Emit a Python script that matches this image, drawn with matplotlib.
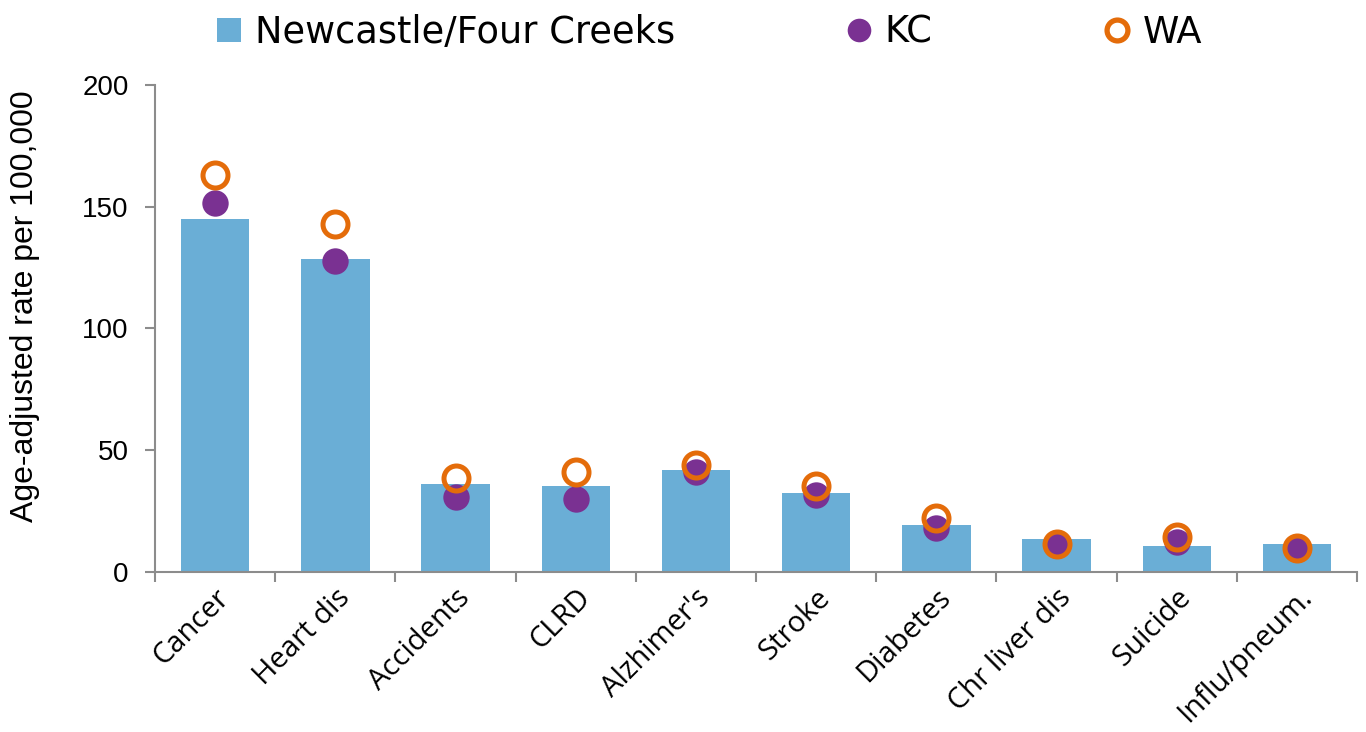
import matplotlib.pyplot as plt
import numpy as np
from matplotlib.lines import Line2D

plt.rcParams['font.family'] = ['DejaVu Sans']

# data
categories = ["Cancer", "Heart dis", "Accidents", "CLRD", "Alzhimer's", "Stroke",
              "Diabetes", "Chr liver dis", "Suicide", "Influ/pneum."]
newcastle = [145, 128.5, 36, 35.3, 41.9, 32.4, 19.3, 13.5, 10.7, 11.5]
kc = [151.5, 127.7, 30.8, 30, 41, 31.6, 18.2, 11, 12.5, 9.8]
wa = [163, 143, 38.7, 41, 44, 35.4, 22.2, 11.4, 14.5, 9.7]

bar_color = "#6aaed6"
kc_color = "#7a3192"
wa_color = "#e46c0a"
axis_gray = "#8c8c8c"

fig = plt.figure(figsize=(13.66, 7.32), dpi=100)
ax = fig.add_axes([0.1135, 0.2186, 0.88, 0.6653])

x = np.arange(len(categories))
ax.bar(x, newcastle, width=0.57, color=bar_color, zorder=1)
ax.plot(x, kc, linestyle="none", marker="o", markersize=19,
        color=kc_color, markeredgewidth=0, zorder=2)
ax.plot(x, wa, linestyle="none", marker="o", markersize=18,
        markerfacecolor="none", markeredgecolor=wa_color,
        markeredgewidth=3.6, zorder=3)

ax.set_xlim(-0.5, len(categories) - 0.5)
ax.set_ylim(0, 200)
ax.set_yticks([0, 50, 100, 150, 200])
ax.set_yticklabels(["0", "50", "100", "150", "200"], family="Liberation Sans", fontsize=20)

# x ticks at category boundaries, labels at centres
ax.set_xticks(np.arange(-0.5, len(categories)), minor=False)
ax.set_xticklabels([])
ax.set_xticks(x, minor=True)
ax.set_xticklabels(categories, minor=True, rotation=45, ha="right",
                   rotation_mode="anchor", fontsize=21, family="Open Sans")
ax.tick_params(axis="x", which="minor", length=0, pad=8)
ax.tick_params(axis="x", which="major", length=7, color=axis_gray, width=1.5)
ax.tick_params(axis="y", length=7, color=axis_gray, width=1.5, pad=12)

for s in ["top", "right"]:
    ax.spines[s].set_visible(False)
for s in ["left", "bottom"]:
    ax.spines[s].set_color(axis_gray)
    ax.spines[s].set_linewidth(1.5)

ax.set_ylabel("Age-adjusted rate per 100,000", fontsize=23, family="Liberation Sans")
ax.yaxis.set_label_coords(-0.096, 0.546)

handles = [
    Line2D([], [], linestyle="none", marker="s", markersize=17,
           color=bar_color, markeredgewidth=0),
    Line2D([], [], linestyle="none", marker="o", markersize=17,
           color=kc_color, markeredgewidth=0),
    Line2D([], [], linestyle="none", marker="o", markersize=15,
           markerfacecolor="none", markeredgecolor=wa_color, markeredgewidth=3.8),
]
fig.legend(handles, ["Newcastle/Four Creeks", "KC", "WA"], loc="center left",
           bbox_to_anchor=(0.157, 0.956), ncol=3, frameon=False, fontsize=26.5,
           borderpad=0, borderaxespad=0,
           handlelength=0.8, handletextpad=0.3, columnspacing=4.6)

fig.savefig("out.png", dpi=100)
